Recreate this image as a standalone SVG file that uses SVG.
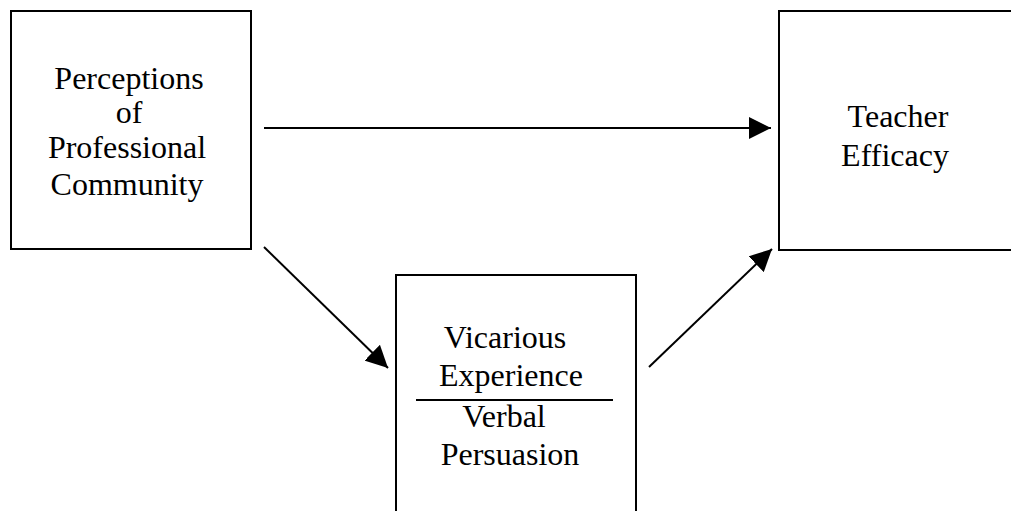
<svg xmlns="http://www.w3.org/2000/svg" width="1011" height="511" viewBox="0 0 1011 511">
<style>
.box{fill:#fff;stroke:#000;stroke-width:2}
.t{font-family:"Liberation Serif","Times New Roman",serif;font-size:32px;fill:#000;text-anchor:middle}
.c{stroke:#000;stroke-width:2;fill:none}
</style>
<defs>
<marker id="ah2" viewBox="0 0 22 22" refX="22" refY="11" markerWidth="22" markerHeight="22" orient="auto" markerUnits="userSpaceOnUse">
<path d="M0,0 L22,11 L0,22 Z" fill="#000"/>
</marker>
</defs>
<rect width="1011" height="511" fill="#fff"/>
<g id="node-perceptions">
<rect class="box" x="11" y="11" width="240" height="238"/>
<text class="t" x="129" y="89">Perceptions</text>
<text class="t" x="129" y="123">of</text>
<text class="t" x="127" y="158">Professional</text>
<text class="t" x="127" y="195">Community</text>
</g>
<g id="node-efficacy">
<rect class="box" x="779" y="11" width="240" height="239"/>
<text class="t" x="898" y="127">Teacher</text>
<text class="t" x="895" y="166">Efficacy</text>
</g>
<g id="node-vicarious">
<rect class="box" x="396" y="275" width="240" height="245"/>
<text class="t" x="505" y="348">Vicarious</text>
<text class="t" x="511" y="386">Experience</text>
<line x1="416" y1="400" x2="613" y2="400" stroke="#000" stroke-width="2"/>
<text class="t" x="504" y="427">Verbal</text>
<text class="t" x="510" y="465">Persuasion</text>
</g>
<g id="connectors">
<line class="c" x1="264" y1="128" x2="771" y2="128" marker-end="url(#ah2)"/>
<line class="c" x1="264" y1="247" x2="388" y2="368" marker-end="url(#ah2)"/>
<line class="c" x1="649" y1="367" x2="772" y2="249" marker-end="url(#ah2)"/>
</g>
</svg>
